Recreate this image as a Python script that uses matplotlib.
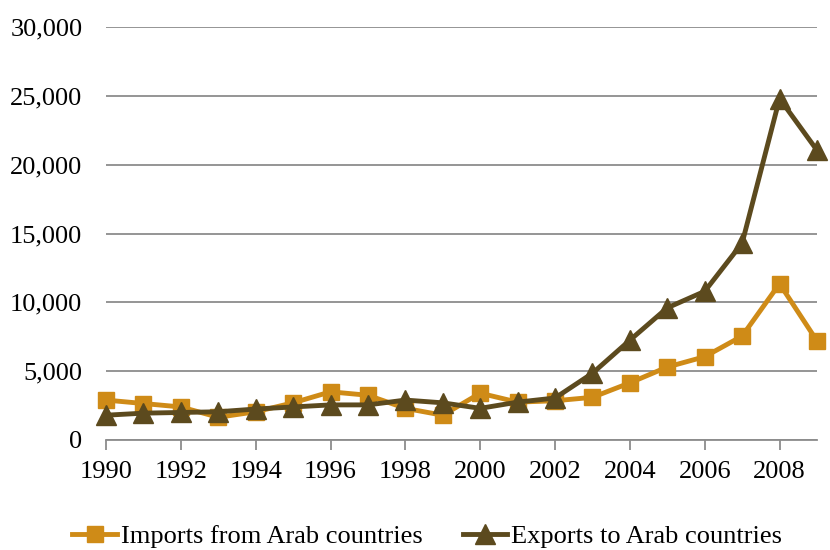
import numpy as np
import matplotlib.pyplot as plt

years = list(range(1990, 2010))
imports = [2900, 2650, 2400, 1650, 2050, 2700, 3500, 3250, 2300, 1800,
           3400, 2750, 2850, 3100, 4150, 5300, 6050, 7550, 11350, 7200]
exports = [1800, 1950, 2000, 2050, 2250, 2400, 2550, 2550, 2900, 2700,
           2300, 2750, 3050, 4850, 7250, 9600, 10800, 14300, 24800, 21050]
yticks = [0, 5000, 10000, 15000, 20000, 25000, 30000]

imp_color = '#CF8B17'
exp_color = '#5C4A1E'

plt.rcParams['font.family'] = ['Liberation Serif', 'DejaVu Serif']

fig = plt.figure(figsize=(8.3, 5.5), dpi=100)
ax = fig.add_axes([0.1277, 0.2, 0.8566, 0.7509])

ax.plot(years, imports, color=imp_color, lw=3.5, marker='s', ms=12,
        clip_on=False, zorder=3, label='Imports from Arab countries')
ax.plot(years, exports, color=exp_color, lw=3.5, marker='^', ms=14,
        clip_on=False, zorder=4, label='Exports to Arab countries')

ax.set_xlim(1990, 2009)
ax.set_ylim(0, 30000)
ax.set_yticks(yticks)
ax.set_yticklabels(['{:,}'.format(v) for v in yticks])
ax.set_xticks(years[::2])
ax.set_xticklabels([str(y) for y in years[::2]])
ax.grid(axis='y', color='#8c8c8c', lw=1.3)
ax.set_axisbelow(True)

for s in ['top', 'right', 'left']:
    ax.spines[s].set_visible(False)
ax.spines['bottom'].set_color('#8c8c8c')
ax.spines['bottom'].set_linewidth(1.3)
ax.tick_params(axis='y', length=0, pad=17, labelsize=19)
ax.tick_params(axis='x', length=7, width=1.3, color='#8c8c8c', pad=8, labelsize=19)

ax.legend(loc='center', bbox_to_anchor=(0.515, 0.025), bbox_transform=fig.transFigure,
          ncol=2, frameon=False, numpoints=1, fontsize=19, handlelength=1.7,
          handletextpad=0.15, columnspacing=1.5, borderaxespad=0)

fig.savefig('out.png', dpi=100)
